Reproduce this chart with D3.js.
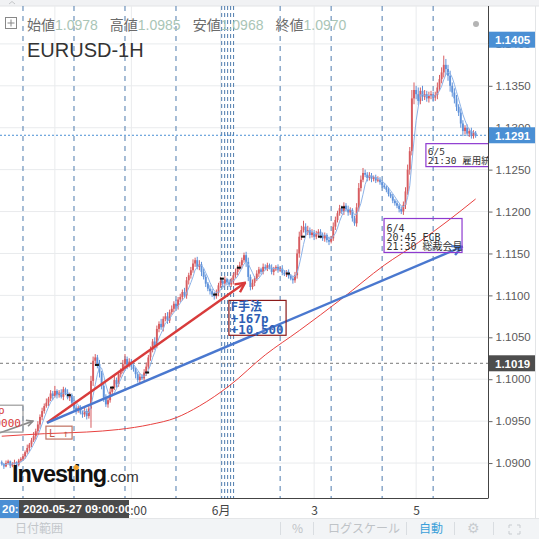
<!DOCTYPE html>
<html>
<head>
<meta charset="utf-8">
<script src="https://cdn.jsdelivr.net/npm/d3@7"></script>
<style>
body { margin: 0; background: #fff; }
svg { display: block; font-family: "Liberation Sans", Arial, sans-serif; }
</style>
</head>
<body>
<div id="plot"></div>
<script>
// hourly closes (EURUSD)
var closes = [
  1.0899, 1.0896, 1.0900, 1.0902, 1.0897, 1.0899, 1.0901, 1.0898, 1.0903, 1.0905,
  1.0908, 1.0913, 1.0918, 1.0922, 1.0927, 1.0932, 1.0938, 1.0946, 1.0955, 1.0962,
  1.0968, 1.0972, 1.0977, 1.0983, 1.0980, 1.0986, 1.0981, 1.0984, 1.0979, 1.0988,
  1.0984, 1.0978, 1.0981, 1.0972, 1.0966, 1.0963, 1.0966, 1.0960, 1.0958, 1.0962,
  1.0956, 1.0965, 1.0998, 1.1022, 1.1026, 1.1018, 1.1008, 1.0992, 1.0978, 1.0970,
  1.0975, 1.0985, 1.0990, 1.0999, 1.0994, 1.1006, 1.1010, 1.1018, 1.1024, 1.1017,
  1.1021, 1.1015, 1.1012, 1.1006, 1.0999, 1.1003, 1.1001, 1.1008, 1.1015, 1.1026,
  1.1035, 1.1045, 1.1040, 1.1060, 1.1066, 1.1062, 1.1072, 1.1075, 1.1070, 1.1080,
  1.1084, 1.1090, 1.1087, 1.1095, 1.1098, 1.1104, 1.1100, 1.1118, 1.1124, 1.1130,
  1.1138, 1.1142, 1.1134, 1.1137, 1.1128, 1.1122, 1.1114, 1.1108, 1.1105, 1.1101,
  1.1099, 1.1103, 1.1112, 1.1117, 1.1114, 1.1119, 1.1116, 1.1113, 1.1117, 1.1124,
  1.1128, 1.1133, 1.1136, 1.1142, 1.1148, 1.1140, 1.1122, 1.1110, 1.1115, 1.1120,
  1.1126, 1.1131, 1.1128, 1.1134, 1.1132, 1.1136, 1.1133, 1.1128, 1.1131, 1.1134,
  1.1130, 1.1132, 1.1127, 1.1125, 1.1128, 1.1123, 1.1120, 1.1118, 1.1124, 1.1150,
  1.1170, 1.1178, 1.1182, 1.1175, 1.1178, 1.1172, 1.1175, 1.1170, 1.1173, 1.1176,
  1.1171, 1.1168, 1.1172, 1.1166, 1.1164, 1.1168, 1.1182, 1.1190, 1.1198, 1.1204,
  1.1200, 1.1207, 1.1203, 1.1199, 1.1202, 1.1192, 1.1186, 1.1205, 1.1228, 1.1238,
  1.1246, 1.1244, 1.1240, 1.1243, 1.1239, 1.1241, 1.1237, 1.1238, 1.1235, 1.1231,
  1.1229, 1.1226, 1.1221, 1.1218, 1.1213, 1.1210, 1.1207, 1.1203, 1.1200, 1.1208,
  1.1224, 1.1250, 1.1272, 1.1335, 1.1345, 1.1340, 1.1332, 1.1344, 1.1337, 1.1340,
  1.1335, 1.1338, 1.1340, 1.1336, 1.1339, 1.1348, 1.1358, 1.1366, 1.1375, 1.1370,
  1.1362, 1.1350, 1.1342, 1.1335, 1.1325, 1.1318, 1.1305, 1.1296, 1.1300, 1.1293,
  1.1296, 1.1290, 1.1294, 1.1291
];
var firstOpen = 1.0901;

// wick length above / below the body, in pips
var wickUp = [
  2,1,3,2,1,2,3,1,2,2, 3,2,4,2,3,5,3,4,3,4,
  3,5,2,4,3,6,2,3,4,3, 2,4,3,2,3,4,2,3,2,4,
  3,4,6,5,4,3,5,2,3,4, 3,4,2,5,3,4,3,5,6,3,
  4,3,5,2,3,4,3,4,5,3, 4,3,5,4,3,6,3,4,5,3,
  4,3,5,3,4,3,5,4,3,4, 5,3,4,5,3,4,3,2,4,3,
  3,4,3,5,3,4,2,3,4,3, 4,3,4,3,3,4,5,3,4,3,
  4,3,2,4,3,3,2,4,3,2, 3,2,4,3,2,3,2,3,4,5,
  6,5,7,4,5,3,4,3,4,3, 3,4,3,2,4,3,5,4,3,4,
  3,4,3,4,3,2,3,5,6,5, 6,4,3,4,3,2,3,4,3,2,
  3,2,3,2,3,2,3,2,3,4, 5,6,5,10,9,5,8,4,6,5,
  4,5,4,3,4,6,5,6,11,7, 5,6,4,5,4,3,5,4,3,4,
  3,4,3,2
];
var wickDn = [
  2,3,1,2,3,2,1,3,2,2, 2,3,2,4,3,2,4,3,5,4,
  3,2,4,3,5,2,4,3,2,4, 3,2,4,3,2,5,3,2,4,3,
  4,3,23,6,4,5,6,4,5,3, 4,3,5,3,4,3,4,3,4,5,
  3,4,3,5,3,4,2,3,4,3, 4,3,5,3,4,3,5,3,4,3,
  3,4,3,4,3,4,3,4,5,4, 3,4,3,4,5,3,4,3,4,3,
  4,3,4,3,4,3,4,3,3,4, 3,4,3,4,3,6,5,4,3,4,
  3,4,3,3,2,3,2,3,4,2, 3,2,3,2,3,3,2,4,3,4,
  5,4,3,4,3,4,3,4,3,4, 3,3,4,3,4,2,3,4,3,3,
  3,4,3,4,3,4,3,4,5,4, 3,3,4,3,4,3,3,2,3,3,
  2,3,3,2,3,3,3,4,3,4, 5,4,6,5,7,6,5,4,5,4,
  4,5,4,5,4,5,4,5,6,7, 6,7,5,6,5,4,5,6,4,3,
  4,3,3,3
];

// long red moving average, sampled
var maIdx = [0, 20, 40, 55, 70, 82, 93, 107, 124, 140, 160, 180, 196, 210, 223];
var maVal = [1.0932, 1.0935, 1.0937, 1.0940, 1.0946, 1.0954, 1.0968, 1.0992, 1.1029, 1.1058, 1.1096, 1.1136, 1.1163, 1.1189, 1.1215];

// small black doji marks
var dojiIdx = [31.6, 44.8, 51.9, 68.4, 100.4, 103.6, 111.6, 134.7, 141.8, 149.8, 160.6];
var dojiVal = [1.0981, 1.1017, 1.0990, 1.1008, 1.1101, 1.1120, 1.1133, 1.1126, 1.1170, 1.1170, 1.1205];

var sessionIdx = [10, 34, 58, 82, 131, 155, 179, 203];
var weekendIdx = [103.5, 104.9, 106.3, 107.7, 109.1];
var timeTickIdx = [25, 61, 103, 147, 195];
var timeTickLabels = ["", "12:00", "6月", "3", "5"];
var priceTicks = [1.0900, 1.0950, 1.1000, 1.1050, 1.1100, 1.1150, 1.1200, 1.1250, 1.1300, 1.1350, 1.1400];

var lastPrice = 1.1291, linePrice = 1.1019, crossPrice = 1.1405;

var W = 539, H = 539;
var plotL = 0, plotR = 488, plotT = 6, plotB = 498;

var svg = d3.select("#plot").append("svg")
  .attr("width", W).attr("height", H);

var x = d3.scaleLinear().domain([-0.82, 228.82]).range([plotL, plotR]);
var y = d3.scaleLinear().domain([1.08583, 1.14452]).range([plotB, plotT]);

svg.append("defs").append("clipPath").attr("id", "clip")
  .append("rect").attr("x", plotL).attr("y", plotT).attr("width", plotR - plotL).attr("height", plotB - plotT);

var defs = svg.select("defs");
function arrowMarker(id, color) {
  defs.append("marker").attr("id", id)
    .attr("viewBox", "0 0 10 10").attr("refX", 9).attr("refY", 5)
    .attr("markerWidth", 5).attr("markerHeight", 5).attr("orient", "auto")
    .append("path").attr("d", "M1,1 L9,5 L1,9")
    .attr("fill", "none").attr("stroke", color).attr("stroke-width", 2);
}
arrowMarker("arRed", "#d83b3b");
arrowMarker("arBlue", "#4a78cf");
arrowMarker("arGray", "#8a8a8a");

// top strip
svg.append("rect").attr("x", 0).attr("y", 0).attr("width", W).attr("height", plotT).attr("fill", "#f1f2f4");
svg.append("line").attr("x1", 0).attr("x2", W).attr("y1", plotT).attr("y2", plotT).attr("stroke", "#e2e4e6");
svg.append("path").attr("d", "M9,4 L12,1.5 L15,4").attr("fill", "none").attr("stroke", "#c4c6c8");

var g = svg.append("g").attr("clip-path", "url(#clip)");

// grid
g.selectAll("line.hgrid").data(priceTicks).enter().append("line")
  .attr("x1", plotL).attr("x2", plotR)
  .attr("y1", function(d) { return y(d); }).attr("y2", function(d) { return y(d); })
  .attr("stroke", "#e9ebed");
g.selectAll("line.vgrid").data(timeTickIdx).enter().append("line")
  .attr("x1", function(d) { return x(d); }).attr("x2", function(d) { return x(d); })
  .attr("y1", plotT).attr("y2", plotB)
  .attr("stroke", "#e9ebed");

// session separators
g.selectAll("line.sess").data(sessionIdx).enter().append("line")
  .attr("x1", function(d) { return x(d); }).attr("x2", function(d) { return x(d); })
  .attr("y1", plotT).attr("y2", plotB)
  .attr("stroke", "#4f7cae").attr("stroke-dasharray", "5,5");
g.selectAll("line.wknd").data(weekendIdx).enter().append("line")
  .attr("x1", function(d) { return x(d); }).attr("x2", function(d) { return x(d); })
  .attr("y1", plotT).attr("y2", plotB)
  .attr("stroke", "#4f7cae").attr("stroke-dasharray", "4,3");

// price lines
g.append("line").attr("x1", plotL).attr("x2", plotR)
  .attr("y1", y(lastPrice)).attr("y2", y(lastPrice))
  .attr("stroke", "#4a8fd4").attr("stroke-dasharray", "2,2");
g.append("line").attr("x1", plotL).attr("x2", plotR)
  .attr("y1", y(linePrice)).attr("y2", y(linePrice))
  .attr("stroke", "#777").attr("stroke-dasharray", "3,3");

// candles
var candles = closes.map(function(c, i) {
  var o = i == 0 ? firstOpen : closes[i - 1];
  return {
    i: i, o: o, c: c,
    h: Math.max(o, c) + wickUp[i] / 10000,
    l: Math.min(o, c) - wickDn[i] / 10000
  };
});

var upCol = "#d75c60", dnCol = "#5f92da";
g.selectAll("line.wick").data(candles).enter().append("line")
  .attr("x1", function(d) { return x(d.i); }).attr("x2", function(d) { return x(d.i); })
  .attr("y1", function(d) { return y(d.h); }).attr("y2", function(d) { return y(d.l); })
  .attr("stroke", function(d) { return d.c >= d.o ? upCol : dnCol; })
  .attr("stroke-width", 1);
g.selectAll("rect.body").data(candles).enter().append("rect")
  .attr("x", function(d) { return x(d.i) - 0.95; })
  .attr("width", 1.9)
  .attr("y", function(d) { return y(Math.max(d.o, d.c)); })
  .attr("height", function(d) { return Math.max(1, Math.abs(y(d.o) - y(d.c))); })
  .attr("fill", function(d) { return d.c >= d.o ? upCol : dnCol; });

// short MA (5)
var sma = closes.map(function(c, i) {
  var s = closes.slice(Math.max(0, i - 4), i + 1);
  return { i: i, v: d3.mean(s) };
});
g.append("path").datum(sma)
  .attr("fill", "none").attr("stroke", "#8db3e8").attr("stroke-width", 1)
  .attr("d", d3.line().x(function(d) { return x(d.i); }).y(function(d) { return y(d.v); }));

// long MA
var maPts = maIdx.map(function(d, k) { return [d, maVal[k]]; });
g.append("path").datum(maPts)
  .attr("fill", "none").attr("stroke", "#e8413f").attr("stroke-width", 1)
  .attr("d", d3.line().curve(d3.curveMonotoneX)
    .x(function(d) { return x(d[0]); }).y(function(d) { return y(d[1]); }));

// doji marks
g.selectAll("rect.doji").data(dojiIdx).enter().append("rect")
  .attr("x", function(d) { return x(d) - 2; })
  .attr("y", function(d, k) { return y(dojiVal[k]) - 1; })
  .attr("width", 4).attr("height", 2).attr("fill", "#111");

// trend lines
function trend(a, b, color, w, mk) {
  g.append("line")
    .attr("x1", x(a[0])).attr("y1", y(a[1]))
    .attr("x2", x(b[0])).attr("y2", y(b[1]))
    .attr("stroke", color).attr("stroke-width", w)
    .attr("marker-end", "url(#" + mk + ")");
}
trend([21.3, 1.0948], [114.5, 1.1115], "#d83b3b", 2.4, "arRed");
trend([21.3, 1.0948], [216.6, 1.1158], "#4a78cf", 2.4, "arBlue");
trend([-0.8, 1.0936], [14.7, 1.0950], "#8a8a8a", 1.6, "arGray");

// annotation boxes
function box(i0, i1, p0, p1, color) {
  g.append("rect")
    .attr("x", x(i0)).attr("y", y(p0))
    .attr("width", x(i1) - x(i0)).attr("height", y(p1) - y(p0))
    .attr("fill", "none").attr("stroke", color).attr("stroke-width", 1.2);
}
function label(i, p, str, color, size, weight, anchor) {
  g.append("text").attr("x", x(i)).attr("y", y(p))
    .attr("fill", color).attr("font-size", size).attr("font-weight", weight || "normal")
    .attr("text-anchor", anchor || "start")
    .style("font-family", "'DejaVu Sans Mono', 'Noto Sans CJK JP', monospace")
    .text(str);
}

box(-5.5, 10, 1.0969, 1.09369, "#9a9a9a");
label(1.4, 1.0958, "+120p", "#d83b3b", 11, "normal", "end");
label(9, 1.0943, "+12,0000", "#d83b3b", 11, "normal", "end");

box(20.8, 33.1, 1.0944, 1.09286, "#c07060");
label(22.2, 1.0931, "L", "#c0584a", 10);
label(28.6, 1.0931, "↑", "#c0584a", 10);

box(106.9, 133.8, 1.1094, 1.10524, "#8b1a1a");
label(107.8, 1.10810, "F手法", "#2f5fb5", 12, "bold");
label(107.8, 1.10667, "+167p", "#2f5fb5", 12.5, "bold");
label(107.8, 1.10536, "+10,500", "#2f5fb5", 12.5, "bold");

box(179.9, 216.6, 1.11917, 1.11512, "#8e3ad0");
label(181, 1.11762, "6/4", "#333", 10);
label(181, 1.11652, "20:45 ECB", "#333", 10);
label(181, 1.11542, "21:30 総裁会見", "#333", 10);

box(199.6, 236, 1.12810, 1.12536, "#8e3ad0");
label(200.5, 1.12680, "6/5", "#333", 9.5);
label(200.5, 1.12565, "21:30 雇用統計", "#333", 9.5);

// Investing.com logo
var logo = svg.append("text").attr("x", 12).attr("y", 482)
  .style("font-family", "'Liberation Sans', Arial, sans-serif");
logo.append("tspan").attr("font-size", 23.5).attr("font-weight", "bold").attr("fill", "#111")
  .attr("letter-spacing", -1).text("Investing");
logo.append("tspan").attr("font-size", 15).attr("fill", "#333").text(".com");
var iBox = logo.node().getExtentOfChar(6);
svg.append("circle").attr("cx", iBox.x + iBox.width / 2 - 0.5).attr("cy", iBox.y + 6.5)
  .attr("r", 2.6).attr("fill", "#f0a12a");

// header
var hdr = svg.append("text").attr("x", 27).attr("y", 30).attr("font-size", 14)
  .style("font-family", "'Noto Sans CJK JP', 'Liberation Sans', sans-serif");
var ohlcNames = ["始値", "高値", "安値", "終値"];
var ohlcVals = ["1.0978", "1.0985", "1.0968", "1.0970"];
ohlcNames.forEach(function(n, k) {
  hdr.append("tspan").attr("fill", "#6b6b6b").attr("dx", k ? 12 : 0).text(n);
  hdr.append("tspan").attr("fill", "#a9c5b6").style("font-family", "'Liberation Sans', Arial, sans-serif").text(ohlcVals[k]);
});
svg.append("rect").attr("x", 5.5).attr("y", 17.5).attr("width", 11).attr("height", 11)
  .attr("fill", "none").attr("stroke", "#888");
svg.append("path").attr("d", "M11,19.5 V26.5 M7.5,23 H14.5").attr("stroke", "#888");
svg.append("text").attr("x", 27).attr("y", 57).attr("font-size", 20).attr("fill", "#333")
  .text("EURUSD-1H");
svg.append("circle").attr("cx", 476).attr("cy", 24).attr("r", 3).attr("fill", "#b4b4b4");

// frame
svg.append("line").attr("x1", plotR + 0.5).attr("x2", plotR + 0.5).attr("y1", plotT).attr("y2", plotB)
  .attr("stroke", "#444");
svg.append("line").attr("x1", 0).attr("x2", plotR + 0.5).attr("y1", plotB + 0.5).attr("y2", plotB + 0.5)
  .attr("stroke", "#444");
svg.append("line").attr("x1", 535.5).attr("x2", 535.5).attr("y1", plotT).attr("y2", 518)
  .attr("stroke", "#e3e5e7");

// price axis
var yAxis = svg.append("g").attr("transform", "translate(" + (plotR + 0.5) + ",0)")
  .call(d3.axisRight(y).tickValues(priceTicks).tickFormat(d3.format(".4f")).tickSize(4).tickPadding(3));
yAxis.select(".domain").remove();
yAxis.selectAll("line").attr("stroke", "#666");
yAxis.selectAll("text").attr("fill", "#5a5a5a").attr("font-size", 11.5)
  .style("font-family", "'Liberation Sans', Arial, sans-serif");

function priceTag(p, bg) {
  var t = svg.append("g").attr("transform", "translate(" + (plotR + 1) + "," + y(p) + ")");
  t.append("rect").attr("x", 0).attr("y", -8).attr("width", 46).attr("height", 16).attr("fill", bg);
  t.append("text").attr("x", 6).attr("y", 4.5).attr("fill", "#fff").attr("font-size", 11.5)
    .attr("font-weight", "bold").text(d3.format(".4f")(p));
}
priceTag(crossPrice, "#4a8fd4");
priceTag(lastPrice, "#4a8fd4");
priceTag(linePrice, "#4d4d4d");

// time axis
var xAxis = svg.append("g").attr("transform", "translate(0," + (plotB + 0.5) + ")")
  .call(d3.axisBottom(x).tickValues(timeTickIdx)
    .tickFormat(function(d, k) { return timeTickLabels[k]; }).tickSize(0).tickPadding(8));
xAxis.select(".domain").remove();
xAxis.selectAll("text").attr("fill", "#444").attr("font-size", 12)
  .style("font-family", "'Noto Sans CJK JP', 'Liberation Sans', sans-serif");

// crosshair time tags
svg.append("rect").attr("x", 0).attr("y", 500).attr("width", 19).attr("height", 18).attr("fill", "#4a8fd4");
svg.append("text").attr("x", 2).attr("y", 513).attr("fill", "#fff").attr("font-size", 11.5)
  .attr("font-weight", "bold").text("20:");
svg.append("rect").attr("x", 19).attr("y", 500).attr("width", 110).attr("height", 18).attr("fill", "#4a4a4a");
svg.append("text").attr("x", 23).attr("y", 513).attr("fill", "#fff").attr("font-size", 11.5)
  .attr("font-weight", "bold").text("2020-05-27 09:00:00");

// toolbar
svg.append("rect").attr("x", 0).attr("y", 518).attr("width", W).attr("height", H - 518).attr("fill", "#f2f4f6");
svg.append("line").attr("x1", 0).attr("x2", W).attr("y1", 518.5).attr("y2", 518.5).attr("stroke", "#e4e6e8");
var tb = svg.append("g").attr("font-size", 12)
  .style("font-family", "'Noto Sans CJK JP', sans-serif");
tb.append("text").attr("x", 15).attr("y", 533).attr("fill", "#c3c7cb").text("日付範囲");
tb.append("text").attr("x", 292).attr("y", 533).attr("fill", "#bfc3c7").text("%");
tb.append("text").attr("x", 328).attr("y", 533).attr("fill", "#bfc3c7").text("ログスケール");
tb.append("text").attr("x", 419).attr("y", 533).attr("fill", "#3a9fd9").text("自動");
tb.append("text").attr("x", 467).attr("y", 533).attr("fill", "#c8ccd0").attr("font-size", 14).text("⚙");
[280, 313, 406, 454, 493].forEach(function(sx) {
  tb.append("line").attr("x1", sx + 0.5).attr("x2", sx + 0.5).attr("y1", 522).attr("y2", 535).attr("stroke", "#d9dde1");
});
tb.append("path")
  .attr("d", "M509,525 h3 M509,525 v3 M520,525 h-3 M520,525 v3 M509,534 h3 M509,534 v-3 M520,534 h-3 M520,534 v-3")
  .attr("stroke", "#c8ccd0").attr("fill", "none");
</script>
</body>
</html>
